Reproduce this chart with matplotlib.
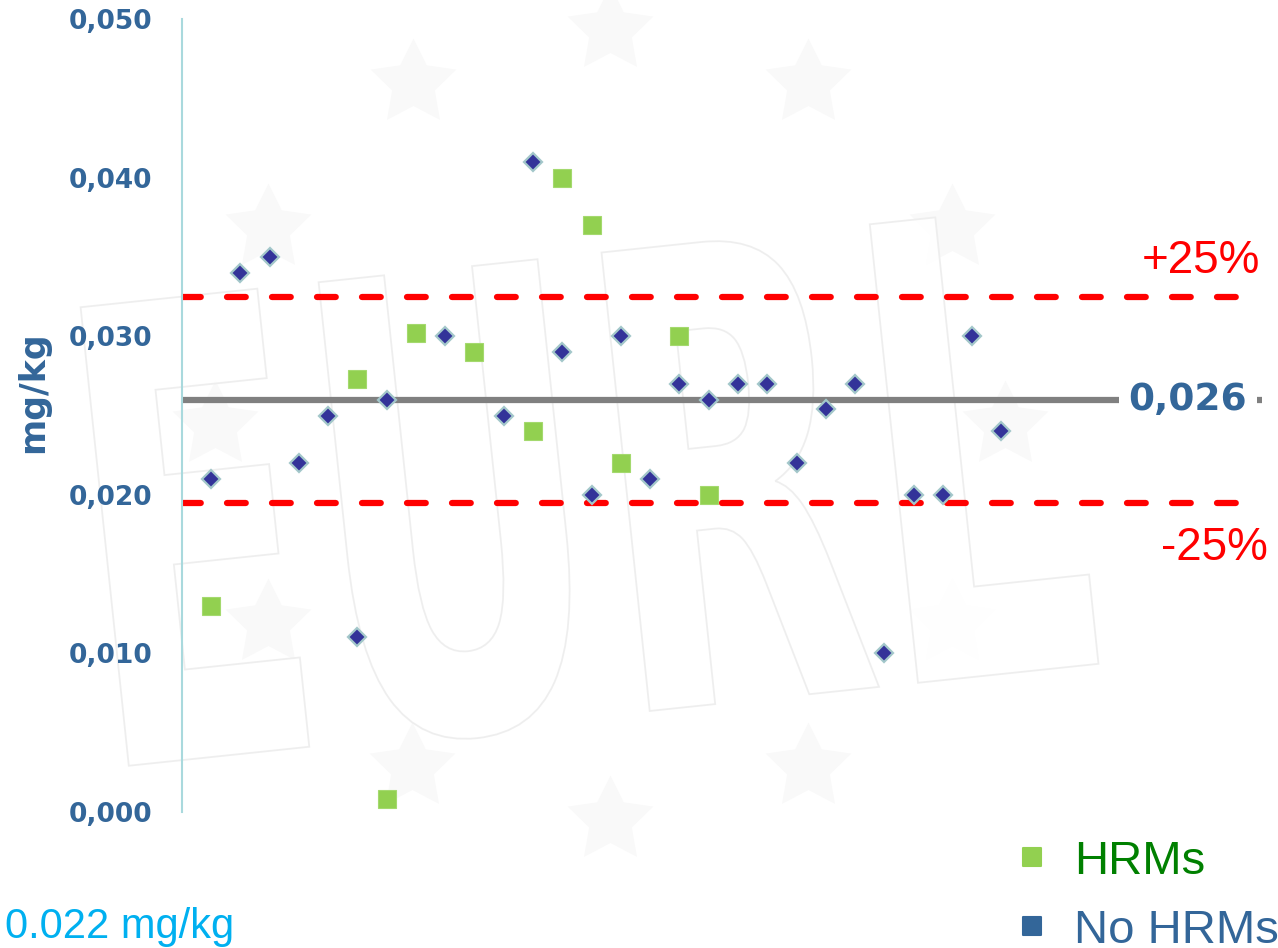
import matplotlib
matplotlib.use("Agg")
import numpy as np
import matplotlib.pyplot as plt
from matplotlib.lines import Line2D
from matplotlib.markers import MarkerStyle
from matplotlib.textpath import TextPath
from matplotlib.patches import PathPatch
from matplotlib.font_manager import FontProperties
from matplotlib.transforms import Affine2D
from matplotlib.ticker import FuncFormatter, FixedLocator

# Laboratory results (mg/kg)
hrm_labs = [1, 6, 7, 8, 10, 12, 13, 14, 15, 17, 18]
hrm_values = [0.013, 0.0273, 0.0008, 0.0302, 0.029, 0.024, 0.040, 0.037,
              0.022, 0.030, 0.020]
nohrm_labs = [1, 2, 3, 4, 5, 6, 7, 9, 11, 12, 13, 14, 15, 16, 17, 18, 19,
              20, 21, 22, 23, 24, 25, 26, 27, 28]
nohrm_values = [0.021, 0.034, 0.035, 0.022, 0.025, 0.011, 0.026, 0.030,
                0.025, 0.041, 0.029, 0.020, 0.030, 0.021, 0.027, 0.026,
                0.027, 0.027, 0.022, 0.0254, 0.027, 0.010, 0.020, 0.020,
                0.030, 0.024]
assigned_value = 0.026
tolerance = 0.25
y_ticks = [0.000, 0.010, 0.020, 0.030, 0.040, 0.050]
series_names = ["HRMs", "No HRMs"]
footnote = "0.022 mg/kg"

W, H = 1278, 948
BLUE = "#336699"

fig = plt.figure(figsize=(W / 100, H / 100), dpi=100)
fig.patch.set_facecolor("white")

# faint EURL logo watermark in the background (pixel coordinates)
bg = fig.add_axes([0, 0, 1, 1], zorder=-5)
bg.set_xlim(0, W)
bg.set_ylim(0, H)
bg.axis("off")
cx, cy, r = 610, H - 425, 395
ang = np.deg2rad(np.arange(0, 360, 30))
bg.scatter(cx + r * np.cos(ang), cy + r * np.sin(ang), marker=(5, 1, 0),
           s=4200, color="#F9F9F9", linewidths=0)
tp = TextPath((0, 0), "EURL", size=100,
              prop=FontProperties(family="DejaVu Sans", weight="bold"))
ext = tp.get_extents()
tr = (Affine2D()
      .translate(-ext.x0 - ext.width / 2, -ext.y0 - ext.height / 2)
      .scale(975 / ext.width, 470 / ext.height)
      .rotate_deg(6)
      .translate(590, H - 490))
bg.add_patch(PathPatch(tr.transform_path(tp), facecolor="#FFFFFF",
                       edgecolor="#EDEDED", lw=1.3, alpha=0.9))

# main plotting area
ax = fig.add_axes([181.7 / W, 1 - 811.7 / H, (1262 - 181.7) / W,
                   (811.7 - 19.3) / H])
ax.patch.set_alpha(0)
ax.set_xlim(0, 36.9)
ax.set_ylim(0, 0.05)

ax.axhline(assigned_value, color="#808080", lw=4.5, zorder=2)
for f in (1 + tolerance, 1 - tolerance):
    ax.axhline(assigned_value * f, color="#FF0000", lw=4.5,
               dashes=(3.0, 4.2), dash_capstyle="round", zorder=2)

ax.plot(hrm_labs, hrm_values, ls="none", marker="s", ms=13.3,
        mfc="#92D050", mec="#A4D96E", mew=0.8, zorder=3, clip_on=False)
ax.plot(nohrm_labs, nohrm_values, ls="none", marker="D", ms=9,
        mfc="#333399", mec="#A3C7CA", mew=1.6, zorder=4, clip_on=False)

for s in ("top", "right", "bottom"):
    ax.spines[s].set_visible(False)
ax.spines["left"].set_color("#A9D9DD")
ax.spines["left"].set_linewidth(1.5)
ax.set_xticks([])
ax.yaxis.set_major_locator(FixedLocator(y_ticks))
ax.yaxis.set_major_formatter(FuncFormatter(lambda v, _: f"{v:.3f}".replace(".", ",")))
ax.tick_params(axis="y", length=0, pad=21, labelsize=19, labelcolor=BLUE)
for lab in ax.get_yticklabels():
    lab.set_fontweight("bold")

fig.text(33 / W, 1 - 392 / H, "mg/kg", rotation=90, ha="center", va="center",
         fontsize=25, fontweight="bold", color=BLUE)

# assigned value label sitting on the line
fig.text(1188 / W, 1 - 410 / H, f"{assigned_value:.3f}".replace(".", ","),
         ha="center", va="baseline", fontsize=27, fontweight="bold",
         color=BLUE, zorder=5,
         bbox=dict(boxstyle="square,pad=0.25", fc="white", ec="none"))

fig.text(1260 / W, 1 - 273 / H, f"+{tolerance:.0%}", ha="right", va="baseline",
         fontsize=33, color="#FF0000", family="Liberation Sans")
fig.text(1268 / W, 1 - 560 / H, f"-{tolerance:.0%}", ha="right", va="baseline",
         fontsize=33, color="#FF0000", family="Liberation Sans")

fig.text(5 / W, 1 - 938 / H, footnote, ha="left", va="baseline",
         fontsize=30, color="#00B0F0", family="Liberation Sans")

sq = MarkerStyle("s", joinstyle="round")
handles = [
    Line2D([], [], ls="none", marker=sq, ms=13.5, mfc="#92D050", mec="#92D050", mew=1.5),
    Line2D([], [], ls="none", marker=sq, ms=13, mfc=BLUE, mec=BLUE, mew=1.5),
]
fig.legend(handles, series_names, loc="upper left",
           bbox_to_anchor=(1008 / W, 1 - 840 / H), frameon=False,
           prop=FontProperties(family="Liberation Sans", size=34),
           labelcolor=["#008000", BLUE], handlelength=1.0,
           handletextpad=0.4, borderpad=0, borderaxespad=0,
           labelspacing=0.53)

fig.savefig("out.png", dpi=100)
